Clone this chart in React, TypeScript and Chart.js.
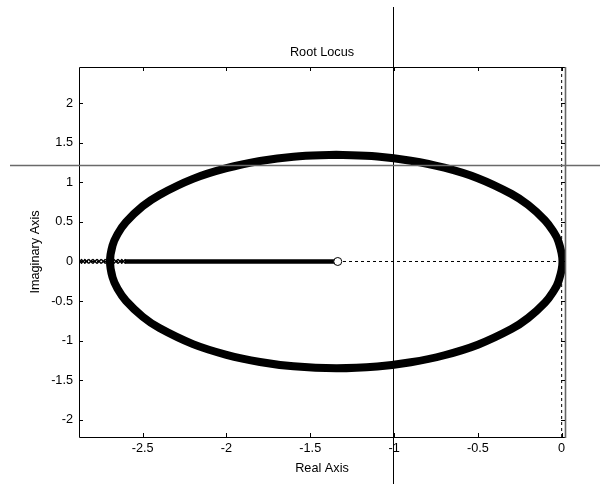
import React, { useEffect, useRef } from "react";
import { Chart, registerables } from "chart.js";

Chart.register(...registerables);

// Root locus circle (complex branch), read around the loop starting at the top
const LOCUS_RE = [
  -1.345, -1.1, -0.9, -0.7, -0.5, -0.3, -0.2, -0.1, -0.05, -0.02, 0.005,
  -0.02, -0.05, -0.1, -0.2, -0.3, -0.5, -0.7, -0.9, -1.1, -1.345,
  -1.6, -1.8, -2.0, -2.2, -2.4, -2.5, -2.6, -2.65, -2.68, -2.695,
  -2.68, -2.65, -2.6, -2.5, -2.4, -2.2, -2.0, -1.8, -1.6, -1.345,
];
const LOCUS_IM = [
  1.35, 1.328, 1.275, 1.186, 1.053, 0.855, 0.715, 0.522, 0.381, 0.259, 0,
  -0.259, -0.381, -0.522, -0.715, -0.855, -1.053, -1.186, -1.275, -1.328, -1.35,
  -1.326, -1.271, -1.18, -1.045, -0.842, -0.699, -0.497, -0.346, -0.2, 0,
  0.2, 0.346, 0.497, 0.699, 0.842, 1.045, 1.18, 1.271, 1.326, 1.35,
];

// Real-axis branch (solid thick part), from left end to the zero
const BRANCH_RE = [-2.606, -1.336];
// Sparse markers on the real axis left of the branch
const MARKER_RE = [-2.875, -2.855, -2.835, -2.81, -2.785, -2.76, -2.735, -2.71, -2.685, -2.66, -2.635, -2.615];
// Zero of the open-loop system
const ZERO_RE = [-1.336];
const ZERO_IM = [0];

// Axis ranges and ticks
const X_MIN = -2.88;
const X_MAX = 0.02;
const Y_MIN = -2.22;
const Y_MAX = 2.46;
const X_TICKS = [-2.5, -2, -1.5, -1, -0.5, 0];
const Y_TICKS = [-2, -1.5, -1, -0.5, 0, 0.5, 1, 1.5, 2];

// Cursor crosshair position (data units)
const CROSS_RE = -1.007;
const CROSS_IM = 1.22;

const TITLE = "Root Locus";
const X_LABEL = "Real Axis";
const Y_LABEL = "Imaginary Axis";

const FONT = { family: "'Liberation Sans', Arial, sans-serif", size: 12.7 };

const boxPlugin = {
  id: "boxPlugin",
  afterDraw(chart: any) {
    const { ctx, chartArea, scales } = chart;
    const { left, right, top, bottom } = chartArea;
    const xs = scales.x;
    const ys = scales.y;
    ctx.save();
    // box
    ctx.strokeStyle = "#000";
    ctx.lineWidth = 1;
    ctx.beginPath();
    ctx.moveTo(left + 0.5, top + 0.5);
    ctx.lineTo(right + 0.5, top + 0.5);
    ctx.moveTo(left + 0.5, top + 0.5);
    ctx.lineTo(left + 0.5, bottom + 0.5);
    ctx.lineTo(right + 0.5, bottom + 0.5);
    ctx.stroke();
    ctx.strokeStyle = "#666";
    ctx.lineWidth = 1.6;
    ctx.beginPath();
    ctx.moveTo(right + 0.5, top);
    ctx.lineTo(right + 0.5, bottom + 1);
    ctx.stroke();
    // inward ticks
    const tl = 4;
    ctx.strokeStyle = "#000";
    ctx.lineWidth = 1;
    ctx.beginPath();
    X_TICKS.forEach((v) => {
      const px = Math.round(xs.getPixelForValue(v)) + 0.5;
      ctx.moveTo(px, bottom);
      ctx.lineTo(px, bottom - tl);
      ctx.moveTo(px, top);
      ctx.lineTo(px, top + tl);
    });
    Y_TICKS.forEach((v) => {
      const py = Math.round(ys.getPixelForValue(v)) + 0.5;
      ctx.moveTo(left, py);
      ctx.lineTo(left + tl, py);
      ctx.moveTo(right, py);
      ctx.lineTo(right - tl, py);
    });
    ctx.stroke();
    // crosshair
    const cx = Math.round(xs.getPixelForValue(CROSS_RE)) + 0.5;
    const cy = Math.round(ys.getPixelForValue(CROSS_IM)) + 0.5;
    ctx.strokeStyle = "#000";
    ctx.lineWidth = 1;
    ctx.beginPath();
    ctx.moveTo(cx, 7);
    ctx.lineTo(cx, chart.height);
    ctx.stroke();
    ctx.strokeStyle = "#6a6a6a";
    ctx.lineWidth = 1.6;
    ctx.beginPath();
    ctx.moveTo(10, cy);
    ctx.lineTo(chart.width, cy);
    ctx.stroke();
    ctx.restore();
  },
};

export default function App() {
  const ref = useRef<HTMLCanvasElement | null>(null);
  useEffect(() => {
    if (!ref.current) return;
    const locus = LOCUS_RE.map((x, i) => ({ x, y: LOCUS_IM[i] }));
    const chart = new Chart(ref.current, {
      type: "scatter",
      data: {
        datasets: [
          {
            type: "scatter",
            data: ZERO_RE.map((x, i) => ({ x, y: ZERO_IM[i] })),
            pointStyle: "circle",
            pointRadius: 4,
            pointBorderWidth: 1,
            pointBackgroundColor: "#fff",
            pointBorderColor: "#000",
            order: 0,
          },
          {
            type: "scatter",
            data: MARKER_RE.map((x) => ({ x, y: 0 })),
            pointStyle: "crossRot",
            pointRadius: 3,
            pointBorderWidth: 1.4,
            pointBorderColor: "#000",
            order: 1,
          },
          {
            type: "line",
            data: BRANCH_RE.map((x) => ({ x, y: 0 })),
            borderColor: "#000",
            borderWidth: 4.5,
            pointRadius: 0,
            order: 2,
          },
          {
            type: "line",
            data: locus,
            borderColor: "#000",
            borderWidth: 8,
            pointRadius: 0,
            tension: 0.4,
            borderCapStyle: "round",
            borderJoinStyle: "round",
            order: 3,
          },
          {
            type: "line",
            data: [{ x: X_MIN, y: 0 }, { x: X_MAX, y: 0 }],
            borderColor: "#000",
            borderWidth: 1,
            borderDash: [3, 3],
            pointRadius: 0,
            order: 4,
          },
          {
            type: "line",
            data: [{ x: 0, y: Y_MIN }, { x: 0, y: Y_MAX }],
            borderColor: "#000",
            borderWidth: 1,
            borderDash: [3, 3],
            pointRadius: 0,
            order: 5,
          },
        ] as any,
      },
      options: {
        animation: false,
        responsive: false,
        events: [],
        layout: { padding: { left: 0, right: 35, top: 0, bottom: 0 } },
        plugins: {
          legend: { display: false },
          tooltip: { enabled: false },
          title: {
            display: true,
            fullSize: false,
            text: TITLE,
            color: "#000",
            font: { ...FONT, weight: "normal" },
            padding: { top: 44.4, bottom: 7.36 },
          },
        },
        scales: {
          x: {
            type: "linear",
            min: X_MIN,
            max: X_MAX,
            grid: { display: false, drawTicks: false },
            border: { display: false },
            afterFit: (s: any) => {
              s.height = 47;
            },
            afterBuildTicks: (s: any) => {
              s.ticks = X_TICKS.map((v) => ({ value: v }));
            },
            ticks: {
              color: "#000",
              font: FONT,
              padding: 3.4,
              maxRotation: 0,
              autoSkip: false,
              callback: (v: any) => String(v),
            },
            title: {
              display: true,
              text: X_LABEL,
              color: "#000",
              font: FONT,
              padding: { top: 0, bottom: 7.4 },
            },
          },
          y: {
            type: "linear",
            min: Y_MIN,
            max: Y_MAX,
            grid: { display: false, drawTicks: false },
            border: { display: false },
            afterFit: (s: any) => {
              s.width = 79;
            },
            afterBuildTicks: (s: any) => {
              s.ticks = Y_TICKS.map((v) => ({ value: v }));
            },
            ticks: {
              color: "#000",
              font: FONT,
              padding: 6,
              autoSkip: false,
              callback: (v: any) => String(v),
            },
            title: {
              display: true,
              text: Y_LABEL,
              color: "#000",
              font: FONT,
              padding: { top: 27.4, bottom: 0 },
            },
          },
        },
      } as any,
      plugins: [boxPlugin],
    });
    return () => chart.destroy();
  }, []);
  return (
    <div style={{ position: "absolute", left: 0, top: 0, width: 600, height: 484, background: "#fff" }}>
      <canvas ref={ref} width={600} height={484} style={{ display: "block" }} />
    </div>
  );
}
